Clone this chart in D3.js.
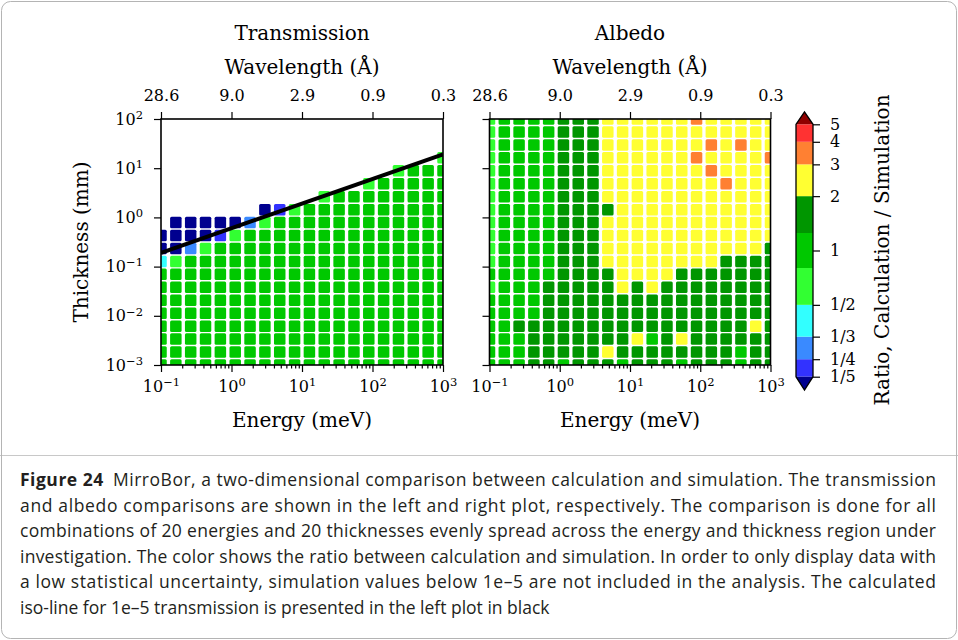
<!DOCTYPE html>
<html>
<head>
<meta charset="utf-8">
<title>MirroBor ratio maps</title>
<script src="https://cdn.jsdelivr.net/npm/d3@7"></script>
<style>
  body { margin: 0; background: #fff; }
  svg text { font-family: 'DejaVu Serif', serif; fill: #000; }
  .caption text { font-family: 'Open Sans', sans-serif; fill: #231f20; }
</style>
</head>
<body>
<svg width="958" height="640"></svg>
<script>
// grid of the comparison: 20 energies (meV) x 20 thicknesses (mm)
const energies = [0.1, 0.1624, 0.2637, 0.4281, 0.6952, 1.129, 1.833, 2.976, 4.833, 7.848,
  12.74, 20.69, 33.60, 54.56, 88.59, 143.8, 233.6, 379.3, 615.8, 1000];
// rows listed from the top of the plot (thickest) downwards
const thicknesses = [100, 54.56, 29.76, 16.24, 8.859, 4.833, 2.637, 1.438, 0.7848, 0.4281,
  0.2336, 0.1274, 0.06952, 0.03793, 0.02069, 0.01129, 0.006158, 0.003360, 0.001833, 0.001];

const _ = null; // no data (simulation below 1e-5)

// ratio calculation / simulation, transmission
const transmissionRatio = [
  [_, _, _, _, _, _, _, _, _, _, _, _, _, _, _, _, _, _, _, _],
  [_, _, _, _, _, _, _, _, _, _, _, _, _, _, _, _, _, _, _, _],
  [_, _, _, _, _, _, _, _, _, _, _, _, _, _, _, _, _, _, _, _],
  [_, _, _, _, _, _, _, _, _, _, _, _, _, _, _, _, _, _, _, 0.65],
  [_, _, _, _, _, _, _, _, _, _, _, _, _, _, _, _, 0.65, 1, 1, 1],
  [_, _, _, _, _, _, _, _, _, _, _, _, _, _, 0.65, 1, 1, 1, 1, 1],
  [_, _, _, _, _, _, _, _, _, _, _, 0.65, 1, 1, 1, 1, 1, 1, 1, 1],
  [_, _, _, _, _, _, _, 0.15, 0.22, 0.65, 1, 1, 1, 1, 1, 1, 1, 1, 1, 1],
  [_, 0.15, 0.15, 0.15, 0.15, 0.15, 0.29, 0.65, 1, 1, 1, 1, 1, 1, 1, 1, 1, 1, 1, 1],
  [0.15, 0.15, 0.15, 0.15, 0.22, 0.65, 1, 1, 1, 1, 1, 1, 1, 1, 1, 1, 1, 1, 1, 1],
  [0.15, 0.15, 0.29, 0.65, 1, 1, 1, 1, 1, 1, 1, 1, 1, 1, 1, 1, 1, 1, 1, 1],
  [0.4, 0.65, 1, 1, 1, 1, 1, 1, 1, 1, 1, 1, 1, 1, 1, 1, 1, 1, 1, 1],
  [1, 1, 1, 1, 1, 1, 1, 1, 1, 1, 1, 1, 1, 1, 1, 1, 1, 1, 1, 1],
  [1, 1, 1, 1, 1, 1, 1, 1, 1, 1, 1, 1, 1, 1, 1, 1, 1, 1, 1, 1],
  [1, 1, 1, 1, 1, 1, 1, 1, 1, 1, 1, 1, 1, 1, 1, 1, 1, 1, 1, 1],
  [1, 1, 1, 1, 1, 1, 1, 1, 1, 1, 1, 1, 1, 1, 1, 1, 1, 1, 1, 1],
  [1, 1, 1, 1, 1, 1, 1, 1, 1, 1, 1, 1, 1, 1, 1, 1, 1, 1, 1, 1],
  [1, 1, 1, 1, 1, 1, 1, 1, 1, 1, 1, 1, 1, 1, 1, 1, 1, 1, 1, 1],
  [1, 1, 1, 1, 1, 1, 1, 1, 1, 1, 1, 1, 1, 1, 1, 1, 1, 1, 1, 1],
  [1, 1, 1, 1, 1, 1, 1, 1, 1, 1, 1, 1, 1, 1, 1, 1, 1, 1, 1, 1]
];

// ratio calculation / simulation, albedo
const albedoRatio = [
  [0.65, 1, 1, 1, 1, 1.6, 1.6, 1.6, 2.5, 2.5, 2.5, 2.5, 2.5, 2.5, 3.5, 2.5, 2.5, 2.5, 2.5, 2.5],
  [0.65, 1, 1, 1, 1, 1.6, 1.6, 1.6, 2.5, 2.5, 2.5, 2.5, 2.5, 2.5, 2.5, 2.5, 2.5, 2.5, 2.5, 2.5],
  [0.65, 1, 1, 1, 1, 1.6, 1.6, 1.6, 2.5, 2.5, 2.5, 2.5, 2.5, 2.5, 2.5, 3.5, 2.5, 3.5, 2.5, 2.5],
  [0.65, 1, 1, 1, 1, 1.6, 1.6, 1.6, 2.5, 2.5, 2.5, 2.5, 2.5, 2.5, 3.5, 2.5, 2.5, 2.5, 2.5, 3.5],
  [0.65, 1, 1, 1, 1, 1.6, 1.6, 1.6, 2.5, 2.5, 2.5, 2.5, 2.5, 2.5, 2.5, 3.5, 2.5, 2.5, 2.5, 2.5],
  [0.65, 1, 1, 1, 1, 1.6, 1.6, 1.6, 2.5, 2.5, 2.5, 2.5, 2.5, 2.5, 2.5, 2.5, 3.5, 2.5, 2.5, 2.5],
  [0.65, 1, 1, 1, 1, 1.6, 1.6, 1.6, 2.5, 2.5, 2.5, 2.5, 2.5, 2.5, 2.5, 2.5, 2.5, 2.5, 2.5, 2.5],
  [0.65, 1, 1, 1, 1, 1.6, 1.6, 1.6, 1.6, 2.5, 2.5, 2.5, 2.5, 2.5, 2.5, 2.5, 2.5, 2.5, 2.5, 2.5],
  [0.65, 1, 1, 1, 1, 1.6, 1.6, 1.6, 2.5, 2.5, 2.5, 2.5, 2.5, 2.5, 2.5, 2.5, 2.5, 2.5, 2.5, 2.5],
  [0.65, 1, 1, 1, 1, 1.6, 1.6, 1.6, 2.5, 2.5, 2.5, 2.5, 2.5, 2.5, 2.5, 2.5, 2.5, 2.5, 2.5, 2.5],
  [0.65, 1, 1, 1, 1, 1.6, 1.6, 1.6, 2.5, 2.5, 2.5, 2.5, 2.5, 2.5, 2.5, 2.5, 2.5, 2.5, 2.5, 1.6],
  [0.65, 1, 1, 1, 1, 1.6, 1.6, 1.6, 2.5, 2.5, 2.5, 2.5, 2.5, 2.5, 2.5, 2.5, 1.6, 1.6, 1.6, 1.6],
  [1, 1, 1, 1, 1, 1.6, 1.6, 1.6, 1.6, 2.5, 2.5, 2.5, 2.5, 1.6, 1.6, 1.6, 1.6, 1.6, 1.6, 1.6],
  [0.65, 1, 1, 1, 1.6, 1.6, 1.6, 1.6, 1.6, 2.5, 1.6, 2.5, 1.6, 1.6, 1.6, 1.6, 1.6, 1.6, 1.6, 1.6],
  [1, 1, 1, 1, 1.6, 1.6, 1.6, 1.6, 1.6, 1.6, 1.6, 1.6, 1.6, 1.6, 1.6, 1.6, 1.6, 1.6, 1.6, 1.6],
  [1, 1, 1, 1, 1.6, 1.6, 1.6, 1.6, 1.6, 1.6, 1.6, 1.6, 1.6, 1.6, 1.6, 1.6, 1.6, 1.6, 1.6, 1.6],
  [1, 1, 1.6, 1.6, 1.6, 1.6, 1.6, 1.6, 1.6, 1.6, 1.6, 1.6, 1.6, 1.6, 1.6, 1.6, 1.6, 1.6, 2.5, 1.6],
  [1, 1, 1, 1.6, 1.6, 1.6, 1.6, 1.6, 1.6, 1.6, 2.5, 1, 1.6, 2.5, 1.6, 1.6, 1.6, 1.6, 1.6, 1.6],
  [1, 1, 1, 1.6, 1.6, 1.6, 1.6, 1.6, 2.5, 1.6, 1.6, 1.6, 1.6, 1.6, 1.6, 1.6, 1.6, 1, 1.6, 1.6],
  [1, 1, 1, 1.6, 1.6, 1, 1.6, 1.6, 1.6, 1, 1.6, 1.6, 1.6, 1, 1.6, 1.6, 1.6, 1, 1.6, 1.6]
];

// iso-line for 1e-5 transmission
const isoEnergy = [0.1, 1000];
const isoThickness = [0.19, 19];

// axes
const energyTicks = [0.1, 1, 10, 100, 1000];
const wavelengthLabels = ['28.6', '9.0', '2.9', '0.9', '0.3'];
const thicknessTicks = [1e-3, 1e-2, 1e-1, 1, 10, 100];

// discrete colour map
const ratioBounds = [1 / 5, 1 / 4, 1 / 3, 1 / 2, 0.8, 1.25, 2, 3, 4, 5];
const ratioColors = ['#00008f', '#3232ff', '#3a8aff', '#32ffff', '#32ff32', '#00c800',
  '#009600', '#ffff32', '#ff8032', '#ff3232', '#8f0000'];
const ratioTicks = [1 / 5, 1 / 4, 1 / 3, 1 / 2, 1, 2, 3, 4, 5];
const ratioTickLabels = ['1/5', '1/4', '1/3', '1/2', '1', '2', '3', '4', '5'];

const captionLines = [
  'and albedo comparisons are shown in the left and right plot, respectively. The comparison is done for all',
  'combinations of 20 energies and 20 thicknesses evenly spread across the energy and thickness region under',
  'investigation. The color shows the ratio between calculation and simulation. In order to only display data with',
  'a low statistical uncertainty, simulation values below 1e\u20135 are not included in the analysis. The calculated',
  'iso-line for 1e\u20135 transmission is presented in the left plot in black'
];

const svg = d3.select('svg');
const plotTop = 119, plotBottom = 365;
const cellSize = 11.5;
const color = d3.scaleThreshold().domain(ratioBounds).range(ratioColors);

const panels = [
  { title: 'Transmission', left: 161, right: 443, ratio: transmissionRatio, iso: true },
  { title: 'Albedo', left: 489.5, right: 770.5, ratio: albedoRatio, iso: false }
];

// 10^n labels with a superscript
function powerLabels(sel) {
  sel.each(function (d) {
    const t = d3.select(this);
    const e = Math.round(Math.log10(d));
    t.text('10');
    t.append('tspan').attr('dy', '-0.5em').attr('font-size', '11.5px')
      .text(e < 0 ? '\u2212' + (-e) : e);
  });
}

function styleAxis(a) {
  a.attr('font-family', null).attr('font-size', 16);
  a.select('.domain').remove();
  a.selectAll('.tick line').attr('stroke-width', 1.2);
}

panels.forEach((p, k) => {
  const x = d3.scaleLog().domain([0.1, 1000]).range([p.left, p.right]);
  const y = d3.scaleLog().domain([1e-3, 1e2]).range([plotBottom, plotTop]);
  const g = svg.append('g');

  svg.append('clipPath').attr('id', 'clip' + k).append('rect')
    .attr('x', p.left).attr('y', plotTop)
    .attr('width', p.right - p.left).attr('height', plotBottom - plotTop);

  const cells = [];
  p.ratio.forEach((row, r) => row.forEach((v, c) => {
    if (v !== null) cells.push({ e: energies[c], t: thicknesses[r], v: v });
  }));

  const plot = g.append('g').attr('clip-path', `url(#clip${k})`);
  plot.selectAll('rect').data(cells).join('rect')
    .attr('x', d => x(d.e) - cellSize / 2)
    .attr('y', d => y(d.t) - cellSize / 2)
    .attr('width', cellSize).attr('height', cellSize)
    .attr('rx', 1.5)
    .attr('fill', d => color(d.v));

  if (p.iso) {
    plot.append('path')
      .datum(d3.zip(isoEnergy, isoThickness))
      .attr('d', d3.line().x(d => x(d[0])).y(d => y(d[1])))
      .attr('fill', 'none').attr('stroke', '#000').attr('stroke-width', 4);
  }

  // bottom axis: minor then major ticks
  const minor = x.ticks().filter(v => Math.abs(Math.log10(v) - Math.round(Math.log10(v))) > 1e-6);
  g.append('g').attr('transform', `translate(0,${plotBottom})`)
    .call(d3.axisBottom(x).tickValues(minor).tickSize(3.5).tickFormat(''))
    .call(styleAxis);
  const bottom = g.append('g').attr('transform', `translate(0,${plotBottom})`)
    .call(d3.axisBottom(x).tickValues(energyTicks).tickSize(7))
    .call(styleAxis);
  bottom.selectAll('.tick text').attr('y', 27).attr('dy', 0).call(powerLabels);

  // top axis: wavelength
  const top = g.append('g').attr('transform', `translate(0,${plotTop})`)
    .call(d3.axisTop(x).tickValues(energyTicks).tickSize(7).tickFormat((d, i) => wavelengthLabels[i]))
    .call(styleAxis);
  top.selectAll('.tick text').attr('y', -18).attr('dy', 0);

  // left axis
  const left = g.append('g').attr('transform', `translate(${p.left},0)`)
    .call(d3.axisLeft(y).tickValues(thicknessTicks).tickSize(7).tickPadding(11))
    .call(styleAxis);
  if (k === 0) left.selectAll('.tick text').call(powerLabels);
  else left.selectAll('.tick text').remove();

  // frame
  g.append('rect')
    .attr('x', p.left).attr('y', plotTop)
    .attr('width', p.right - p.left).attr('height', plotBottom - plotTop)
    .attr('fill', 'none').attr('stroke', '#000').attr('stroke-width', 1.6);

  const cx = (p.left + p.right) / 2;
  g.append('text').attr('x', cx).attr('y', 40).attr('text-anchor', 'middle')
    .attr('font-size', 20).text(p.title);
  g.append('text').attr('x', cx).attr('y', 74).attr('text-anchor', 'middle')
    .attr('font-size', 20).text('Wavelength (\u00c5)');
  g.append('text').attr('x', cx).attr('y', 427).attr('text-anchor', 'middle')
    .attr('font-size', 20).text('Energy (meV)');
});

svg.append('text')
  .attr('transform', 'translate(88,242) rotate(-90)')
  .attr('text-anchor', 'middle').attr('font-size', 20)
  .text('Thickness (mm)');

// colour bar
const cb = d3.scaleLog().domain([1 / 5, 5]).range([376.7, 124.3]);
const cbL = 796, cbR = 813, cbM = (cbL + cbR) / 2;
const bar = svg.append('g');
d3.pairs(ratioBounds).forEach(([lo, hi], i) => {
  bar.append('rect')
    .attr('x', cbL).attr('y', cb(hi))
    .attr('width', cbR - cbL).attr('height', cb(lo) - cb(hi))
    .attr('fill', ratioColors[i + 1]);
});
bar.append('path')
  .attr('d', `M${cbL},${cb(5)}L${cbM},112L${cbR},${cb(5)}Z`)
  .attr('fill', ratioColors[ratioColors.length - 1]);
bar.append('path')
  .attr('d', `M${cbL},${cb(1 / 5)}L${cbM},390L${cbR},${cb(1 / 5)}Z`)
  .attr('fill', ratioColors[0]);
bar.append('path')
  .attr('d', `M${cbL},${cb(5)}L${cbM},112L${cbR},${cb(5)}L${cbR},${cb(1 / 5)}L${cbM},390L${cbL},${cb(1 / 5)}Z`)
  .attr('fill', 'none').attr('stroke', '#000').attr('stroke-width', 1.3);
bar.append('g').attr('transform', `translate(${cbR},0)`)
  .call(d3.axisRight(cb).tickValues(ratioTicks).tickSize(7).tickPadding(10)
    .tickFormat((d, i) => ratioTickLabels[i]))
  .call(styleAxis);

svg.append('text')
  .attr('transform', 'translate(889,250) rotate(-90)')
  .attr('text-anchor', 'middle').attr('font-size', 20)
  .text('Ratio, Calculation / Simulation');

// caption
svg.append('line').attr('x1', 0).attr('x2', 958).attr('y1', 455.5).attr('y2', 455.5)
  .attr('stroke', '#c8c8c8').attr('stroke-width', 1);
const cap = svg.append('g').attr('class', 'caption').attr('font-size', 17.5);
const first = cap.append('text').attr('x', 20).attr('y', 486)
  .attr('textLength', 916).attr('lengthAdjust', 'spacing');
first.append('tspan').attr('font-weight', 'bold').text('Figure 24');
first.append('tspan').text('\u2002MirroBor, a two-dimensional comparison between calculation and simulation. The transmission');
captionLines.forEach((line, i) => {
  const t = cap.append('text').attr('x', 20).attr('y', 511.5 + i * 25.5).text(line);
  if (i < captionLines.length - 1) t.attr('textLength', 916).attr('lengthAdjust', 'spacing');
});

svg.append('rect').attr('x', 1.5).attr('y', 1.5).attr('width', 955).attr('height', 637)
  .attr('rx', 9).attr('fill', 'none').attr('stroke', '#b4b4b4').attr('stroke-width', 1);
</script>
</body>
</html>
